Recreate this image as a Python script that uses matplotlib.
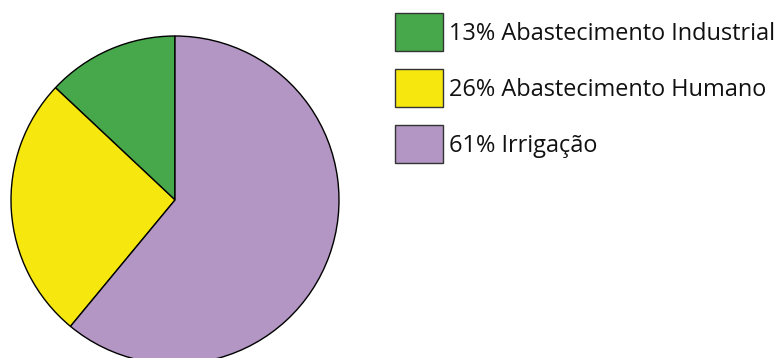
import matplotlib
matplotlib.use("Agg")
import matplotlib.pyplot as plt
from matplotlib.patches import Rectangle

# Water use by sector (percent)
labels = ["Abastecimento Industrial", "Abastecimento Humano", "Irrigação"]
shares = [13, 26, 61]
colors = ["#46a84a", "#f6e80f", "#b396c3"]

W, H = 781, 358
fig = plt.figure(figsize=(W / 100, H / 100), dpi=100)
ax = fig.add_axes([0, 0, 1, 1])

# Pie, starting at twelve o'clock and going counter-clockwise
ax.pie(shares, colors=colors, startangle=90, counterclock=True,
       center=(175, H - 200), radius=164, frame=True,
       wedgeprops=dict(edgecolor="black", linewidth=1.0))
ax.set_xlim(0, W)
ax.set_ylim(0, H)
ax.set_aspect("equal")
ax.axis("off")

# Legend: colour boxes with percentage labels
box_top = [13, 69, 125]
baselines = [40, 96, 152]
for lab, val, col, top, base in zip(labels, shares, colors, box_top, baselines):
    ax.add_patch(Rectangle((395, H - top - 38), 48, 38, facecolor=col,
                           edgecolor="#333333", linewidth=1.0))
    ax.text(449, H - base, f"{val}% {lab}", fontsize=16.9,
            family="Open Sans", color="#111111", va="baseline", ha="left")

fig.savefig("out.png", dpi=100)
